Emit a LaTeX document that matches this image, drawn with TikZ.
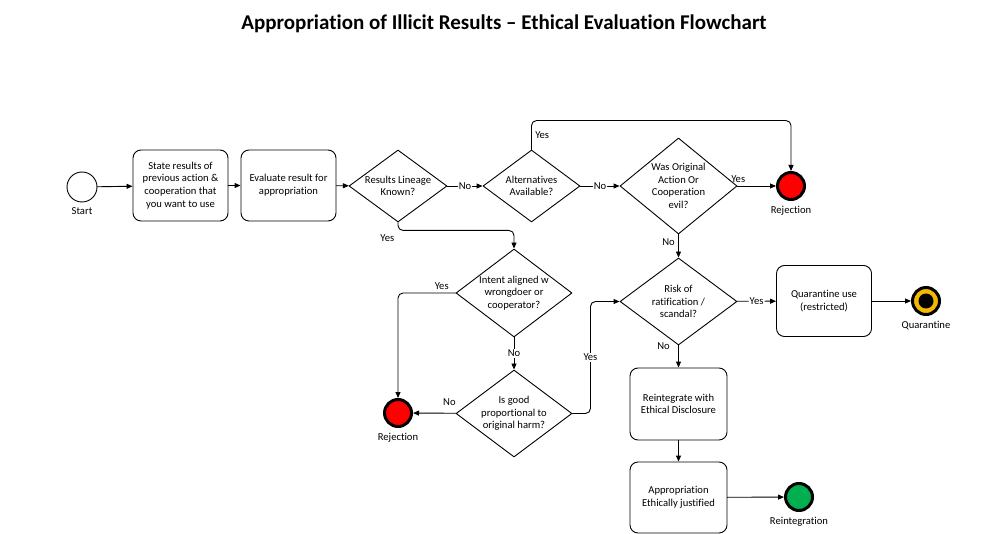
\documentclass[tikz,border=0pt]{standalone}
\usepackage{fontspec}
\setmainfont{Carlito}[Ligatures=NoCommon]
\usetikzlibrary{shapes.geometric,arrows.meta}
\definecolor{qgold}{HTML}{F5B800}
\definecolor{rgreen}{HTML}{00B050}

\begin{document}
\begin{tikzpicture}[line cap=round,line join=round,>={Triangle[length=6pt,width=5pt]},x=1pt,y=-1pt,
		every node/.style={font=\fontsize{10.6}{12.7}\selectfont},
		every label/.style={font=\fontsize{10.6}{12.7}\selectfont,yshift=-1.5pt},
		task/.style={draw,rounded corners=8pt,line width=0.9pt,minimum width=95pt,minimum height=71pt,align=center,inner sep=2pt},
		gate/.style={draw,diamond,line width=0.9pt,align=center,inner sep=0pt},
		event/.style={draw,circle,minimum size=30pt,inner sep=0pt,line width=0.9pt,fill=white},
		endevent/.style={draw,circle,minimum size=27pt,inner sep=0pt,line width=3pt},
		flow/.style={->,line width=0.9pt,rounded corners=5pt},
		lbl/.style={fill=white,inner sep=1pt}]
		\useasboundingbox (0,0) rectangle (1008,534);
		\node[font=\bfseries\fontsize{21}{25}\selectfont] (title) at (504,24) {Appropriation of Illicit Results – Ethical Evaluation Flowchart};
		\node[event,label={below:Start}] (start) at (82,187) {};
		\node[task] (state) at (180.5,185.5) {State results of\\previous action \&\\cooperation that\\you want to use};
		\node[task] (evaluate) at (288.5,185.5) {Evaluate result for\\appropriation};
		\node[gate,aspect=1.36,minimum width=98pt,minimum height=72pt] (lineage) at (398,186) {Results Lineage\\Known?};
		\node[gate,aspect=1.34,minimum width=97pt,minimum height=72pt] (alternatives) at (531.5,186) {Alternatives\\Available?};
		\node[gate,aspect=1.22,minimum width=117pt,minimum height=96pt] (evil) at (678.5,186) {Was Original\\Action Or\\Cooperation\\evil?};
		\node[endevent,fill=red,label={below:Rejection}] (reject1) at (791,186) {};
		\node[gate,aspect=1.34,minimum width=117pt,minimum height=87pt] (risk) at (678.5,301.5) {Risk of\\ratification /\\scandal?};
		\node[task] (quarantine) at (824,301) {Quarantine use\\(restricted)};
		\node[endevent,fill=qgold,label={below:Quarantine}] (qend) at (926,301) {};
		\fill (qend.center) circle (7.5);
		\node[task,minimum width=97pt,minimum height=72pt] (reintegrate) at (678.5,404) {Reintegrate with\\Ethical Disclosure};
		\node[task,minimum width=97pt,minimum height=71pt] (justified) at (678.5,497.5) {Appropriation\\Ethically justified};
		\node[endevent,fill=rgreen,label={below:Reintegration}] (rend) at (799,497) {};
		\node[gate,aspect=1.32,minimum width=116pt,minimum height=88pt] (intent) at (514,293) {Intent aligned w\\wrongdoer or\\cooperator?};
		\node[gate,aspect=1.33,minimum width=116pt,minimum height=87pt] (proportional) at (514,413.5) {Is good\\proportional to\\original harm?};
		\node[endevent,fill=red,label={below:Rejection}] (reject2) at (398,413) {};

		\draw[flow] (start) -- (state);
		\draw[flow] (state) -- (evaluate);
		\draw[flow] (evaluate) -- (lineage);
		\draw[flow] (lineage) -- node[lbl]{No} (alternatives);
		\draw[flow] (alternatives) -- node[lbl]{No} (evil);
		\draw[flow] (evil) -- node[pos=0.02,above]{Yes} (reject1);
		\draw[flow] (alternatives.north) -- node[right]{Yes} ++(0,-29) -| (reject1);
		\draw[flow] (evil) -- node[pos=0.35,left]{No} (risk);
		\draw[flow] (risk) -- node[lbl]{Yes} (quarantine);
		\draw[flow] (quarantine) -- (qend);
		\draw[flow] (risk) -- node[pos=0.05,left=5pt]{No} (reintegrate);
		\draw[flow] (reintegrate) -- (justified);
		\draw[flow] (justified) -- (rend);
		\draw[flow] (lineage.south) -- node[pos=1,below left]{Yes} ++(0,8) -| (intent.north);
		\draw[flow] (intent.west) -| node[pos=0.12,above]{Yes} (reject2);
		\draw[flow] (intent) -- node[lbl]{No} (proportional);
		\draw[flow] (proportional) -- node[pos=0.15,above=4pt]{No} (reject2);
		\draw[flow] (proportional.east) -- ++(18,0) |- node[lbl,pos=0.25]{Yes} (risk.west);
	\end{tikzpicture}
\end{document}
